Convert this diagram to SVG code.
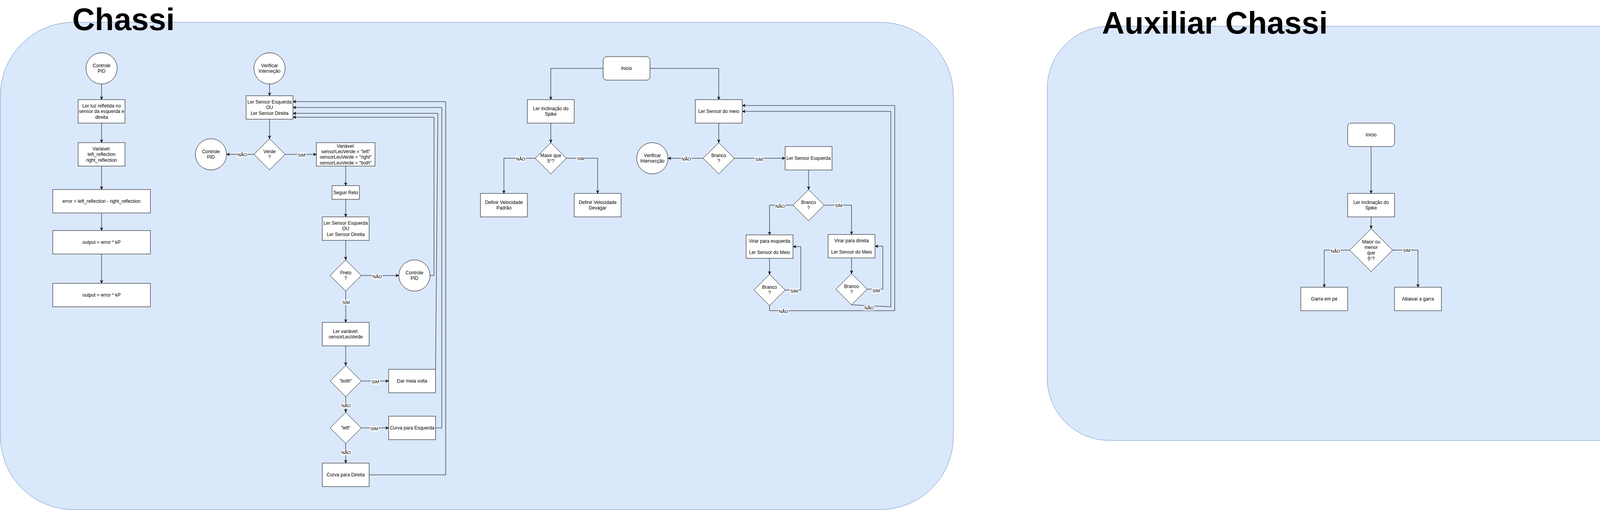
<svg xmlns="http://www.w3.org/2000/svg" width="4372" height="1305" viewBox="0 0 4372 1305">
<style>
.bg{fill:#dae8fc;stroke:#6c8ebf;stroke-width:1}
.n{fill:#fff;stroke:#000;stroke-width:1}
.t{font-family:"Liberation Sans",Arial,Helvetica,sans-serif;font-size:12px;fill:#000;text-anchor:middle}
.title{font-family:"Liberation Sans",Arial,Helvetica,sans-serif;font-size:80px;font-weight:bold;fill:#000}
.e{fill:none;stroke:#000;stroke-width:1}
.a{marker-end:url(#arr)}
.lb{fill:#fff;stroke:none}
.lt{font-family:"Liberation Sans",Arial,Helvetica,sans-serif;font-size:11px;fill:#000;text-anchor:middle}
</style>
<defs>
<marker id="arr" markerUnits="userSpaceOnUse" markerWidth="10" markerHeight="10" refX="8" refY="3.75" orient="auto">
<path d="M0,0 L8,3.75 L0,7.5 L2.5,3.75 Z" fill="#000" stroke="#000" stroke-width="0.5"/>
</marker>
</defs>
<rect width="4372" height="1305" fill="#fff"/>

<g id="container-chassi">
<rect class="bg" x="1" y="57" width="2439.5" height="1247" rx="187" ry="187"/>
<text class="title" x="185" y="77">Chassi</text>
</g>
<g id="container-auxiliar">
<rect class="bg" x="2681" y="67" width="1689" height="1060" rx="159" ry="159"/>
<text class="title" x="2821" y="86">Auxiliar Chassi</text>
</g>

<g id="connectors">
<path class="e a" d="M260,215 V255"/>
<path class="e a" d="M260,315 V365"/>
<path class="e a" d="M260,425 V485"/>
<path class="e a" d="M260,545 V590"/>
<path class="e a" d="M260,650 V725"/>

<path class="e a" d="M690,215 V245"/>
<path class="e a" d="M690,305 V355"/>
<path class="e a" d="M650,395 H580"/>
<path class="e a" d="M730,395 H810"/>
<path class="e a" d="M885,425 V475"/>
<path class="e a" d="M885,510 V555"/>
<path class="e a" d="M885,615 V665"/>
<path class="e a" d="M925,705 H1021"/>
<path class="e a" d="M885,745 V825"/>
<path class="e a" d="M1101,705 H1111 V300 H750"/>
<path class="e a" d="M885,885 V935"/>
<path class="e a" d="M925,975 H995"/>
<path class="e a" d="M885,1015 V1055"/>
<path class="e a" d="M1115,945 L1121,290 H750"/>
<path class="e a" d="M925,1095 H995"/>
<path class="e a" d="M885,1135 V1185"/>
<path class="e a" d="M1115,1095 H1131 V275 H750"/>
<path class="e a" d="M945,1215 H1141 V260 H750"/>

<path class="e a" d="M1544,175 H1410 V255"/>
<path class="e a" d="M1664,175 H1840 V255"/>
<path class="e a" d="M1410,315 V365"/>
<path class="e a" d="M1370,405 H1290 V495"/>
<path class="e a" d="M1450,405 H1530 V495"/>
<path class="e a" d="M1840,315 V365"/>
<path class="e a" d="M1800,405 H1710"/>
<path class="e a" d="M1880,405 H2010"/>
<path class="e a" d="M2070,435 V485"/>
<path class="e a" d="M2030,525 H1970 V601"/>
<path class="e a" d="M2110,525 H2180 V600"/>
<path class="e a" d="M1970,661 V702"/>
<path class="e a" d="M2180,660 V700"/>
<path class="e a" d="M2010,742 H2050 V631 H2030"/>
<path class="e a" d="M2220,740 H2260 V630 H2240"/>
<path class="e a" d="M2180,780 L2280.5,785 V285 H1900"/>
<path class="e a" d="M1970,782 V795 H2290.5 V270 H1900"/>

<path class="e a" d="M3510,375 V495"/>
<path class="e a" d="M3510,555 V585"/>
<path class="e a" d="M3455,640 H3390 V735"/>
<path class="e a" d="M3565,640 H3630 V735"/>

<g id="edge-labels">
<rect class="lb" x="607" y="389.5" width="26" height="13"/><text class="lt" x="620" y="399.8">NÃO</text>
<rect class="lb" x="761" y="390.5" width="22" height="13"/><text class="lt" x="772" y="400.8">SIM</text>
<rect class="lb" x="953" y="701.5" width="26" height="13"/><text class="lt" x="966" y="711.8">NÃO</text>
<rect class="lb" x="875" y="767.5" width="22" height="13"/><text class="lt" x="886" y="777.8">SIM</text>
<rect class="lb" x="950" y="970.5" width="22" height="13"/><text class="lt" x="961" y="980.8">SIM</text>
<rect class="lb" x="873" y="1031.5" width="26" height="13"/><text class="lt" x="886" y="1041.8">NÃO</text>
<rect class="lb" x="947" y="1090.5" width="22" height="13"/><text class="lt" x="958" y="1100.8">SIM</text>
<rect class="lb" x="873" y="1151.5" width="26" height="13"/><text class="lt" x="886" y="1161.8">NÃO</text>
<rect class="lb" x="1320" y="400.5" width="26" height="13"/><text class="lt" x="1333" y="410.8">NÃO</text>
<rect class="lb" x="1476" y="399.5" width="22" height="13"/><text class="lt" x="1487" y="409.8">SIM</text>
<rect class="lb" x="1744" y="400.5" width="26" height="13"/><text class="lt" x="1757" y="410.8">NÃO</text>
<rect class="lb" x="1932" y="401.5" width="22" height="13"/><text class="lt" x="1943" y="411.8">SIM</text>
<rect class="lb" x="1984" y="521.5" width="26" height="13"/><text class="lt" x="1997" y="531.8">NÃO</text>
<rect class="lb" x="2136" y="519.5" width="22" height="13"/><text class="lt" x="2147" y="529.8">SIM</text>
<rect class="lb" x="2022" y="738.5" width="22" height="13"/><text class="lt" x="2033" y="748.8">SIM</text>
<rect class="lb" x="2232" y="737.5" width="22" height="13"/><text class="lt" x="2243" y="747.8">SIM</text>
<rect class="lb" x="2212" y="781.5" width="26" height="13"/><text class="lt" x="2225" y="791.8">NÃO</text>
<rect class="lb" x="1993" y="790.5" width="26" height="13"/><text class="lt" x="2006" y="800.8">NÃO</text>
<rect class="lb" x="3406" y="636.5" width="26" height="13"/><text class="lt" x="3419" y="646.8">NÃO</text>
<rect class="lb" x="3590" y="634.5" width="22" height="13"/><text class="lt" x="3601" y="644.8">SIM</text>
</g>
</g>

<g id="pid-controle"><circle class="n" cx="260" cy="175" r="40"/><text class="t" x="260" y="172">Controle</text><text class="t" x="260" y="186.4">PID</text></g>
<g id="pid-ler-luz"><rect class="n" x="200" y="255" width="120" height="60"/><text class="t" x="260" y="274.8">Ler luz refletida no</text><text class="t" x="260" y="289.2">sensor da esquerda e</text><text class="t" x="260" y="303.6">direita</text></g>
<g id="pid-variavel"><rect class="n" x="200" y="365" width="120" height="60"/><text class="t" x="260" y="384.8">Variável:</text><text class="t" x="260" y="399.2">left_reflection</text><text class="t" x="260" y="413.6">right_reflection</text></g>
<g id="pid-error"><rect class="n" x="135" y="485" width="250" height="60"/><text class="t" x="260" y="519.2">error = left_reflection - right_reflection</text></g>
<g id="pid-output1"><rect class="n" x="135" y="590" width="250" height="60"/><text class="t" x="260" y="624.2">output = error * kP</text></g>
<g id="pid-output2"><rect class="n" x="135" y="725" width="250" height="60"/><text class="t" x="260" y="759.2">output = error * kP</text></g>

<g id="int-verificar"><circle class="n" cx="690" cy="175" r="40"/><text class="t" x="690" y="172">Verificar</text><text class="t" x="690" y="186.4">Interseção</text></g>
<g id="int-ler1"><rect class="n" x="630" y="245" width="120" height="60"/><text class="t" x="690" y="264.8">Ler Sensor Esquerda</text><text class="t" x="690" y="279.2">OU</text><text class="t" x="690" y="293.6">Ler Sensor Direita</text></g>
<g id="int-verde"><path class="n" d="M690,355 L730,395 L690,435 L650,395 Z"/><text class="t" x="690" y="392">Verde</text><text class="t" x="690" y="406.4">?</text></g>
<g id="int-pid1"><circle class="n" cx="540" cy="395" r="40"/><text class="t" x="540" y="392">Controle</text><text class="t" x="540" y="406.4">PID</text></g>
<g id="int-variavel"><rect class="n" x="810" y="365" width="150" height="60"/><text class="t" x="885" y="377.6">Variável:</text><text class="t" x="885" y="392">sensorLeuVerde = "left"</text><text class="t" x="885" y="406.4">sensorLeuVerde = "right"</text><text class="t" x="885" y="420.8">sensorLeuVerde = "both"</text></g>
<g id="int-seguir"><rect class="n" x="850" y="475" width="70" height="35"/><text class="t" x="885" y="496.7">Seguir Reto</text></g>
<g id="int-ler2"><rect class="n" x="825" y="555" width="120" height="60"/><text class="t" x="885" y="574.8">Ler Sensor Esquerda</text><text class="t" x="885" y="589.2">OU</text><text class="t" x="885" y="603.6">Ler Sensor Direita</text></g>
<g id="int-preto"><path class="n" d="M885,665 L925,705 L885,745 L845,705 Z"/><text class="t" x="885" y="702">Preto</text><text class="t" x="885" y="716.4">?</text></g>
<g id="int-pid2"><circle class="n" cx="1061" cy="705" r="40"/><text class="t" x="1061" y="702">Controle</text><text class="t" x="1061" y="716.4">PID</text></g>
<g id="int-lervar"><rect class="n" x="825" y="825" width="120" height="60"/><text class="t" x="885" y="852">Ler variável:</text><text class="t" x="885" y="866.4">sensorLeuVerde</text></g>
<g id="int-both"><path class="n" d="M885,935 L925,975 L885,1015 L845,975 Z"/><text class="t" x="885" y="979.2">"both"</text></g>
<g id="int-meia"><rect class="n" x="995" y="945" width="120" height="60"/><text class="t" x="1055" y="979.2">Dar meia volta</text></g>
<g id="int-left"><path class="n" d="M885,1055 L925,1095 L885,1135 L845,1095 Z"/><text class="t" x="885" y="1099.2">"left"</text></g>
<g id="int-curvaE"><rect class="n" x="995" y="1065" width="120" height="60"/><text class="t" x="1055" y="1099.2">Curva para Esquerda</text></g>
<g id="int-curvaD"><rect class="n" x="825" y="1185" width="120" height="60"/><text class="t" x="885" y="1219.2">Curva para Direita</text></g>

<g id="main-inicio"><rect class="n" x="1544" y="145" width="120" height="60" rx="9" ry="9"/><text class="t" x="1604" y="179.2">Inicio</text></g>
<g id="main-inclinacao"><rect class="n" x="1350" y="255" width="120" height="60"/><text class="t" x="1410" y="282">Ler inclinação do</text><text class="t" x="1410" y="296.4">Spike</text></g>
<g id="main-maior"><path class="n" d="M1410,365 L1450,405 L1410,445 L1370,405 Z"/><text class="t" x="1410" y="402">Maior que</text><text class="t" x="1410" y="416.4">5°?</text></g>
<g id="main-padrao"><rect class="n" x="1230" y="495" width="120" height="60"/><text class="t" x="1290" y="522">Definir Velocidade</text><text class="t" x="1290" y="536.4">Padrão</text></g>
<g id="main-devagar"><rect class="n" x="1470" y="495" width="120" height="60"/><text class="t" x="1530" y="522">Definir Velocidade</text><text class="t" x="1530" y="536.4">Devagar</text></g>
<g id="main-meio"><rect class="n" x="1780" y="255" width="120" height="60"/><text class="t" x="1840" y="289.2">Ler Sensor do meio</text></g>
<g id="main-branco1"><path class="n" d="M1840,365 L1880,405 L1840,445 L1800,405 Z"/><text class="t" x="1840" y="402">Branco</text><text class="t" x="1840" y="416.4">?</text></g>
<g id="main-verificar"><circle class="n" cx="1670" cy="405" r="40"/><text class="t" x="1670" y="402">Verificar</text><text class="t" x="1670" y="416.4">Intersecção</text></g>
<g id="main-esquerda"><rect class="n" x="2010" y="375" width="120" height="60"/><text class="t" x="2070" y="409.2">Ler Sensor Esquerda</text></g>
<g id="main-branco2"><path class="n" d="M2070,485 L2110,525 L2070,565 L2030,525 Z"/><text class="t" x="2070" y="522">Branco</text><text class="t" x="2070" y="536.4">?</text></g>
<g id="main-virarE"><rect class="n" x="1910" y="601" width="120" height="60"/><text class="t" x="1970" y="620.8">Virar para esquerda</text><text class="t" x="1970" y="649.6">Ler Sensor do Meio</text></g>
<g id="main-virarD"><rect class="n" x="2120" y="600" width="120" height="60"/><text class="t" x="2180" y="619.8">Virar para direita</text><text class="t" x="2180" y="648.6">Ler Sensor do Meio</text></g>
<g id="main-branco3"><path class="n" d="M1970,702 L2010,742 L1970,782 L1930,742 Z"/><text class="t" x="1970" y="739">Branco</text><text class="t" x="1970" y="753.4">?</text></g>
<g id="main-branco4"><path class="n" d="M2180,700 L2220,740 L2180,780 L2140,740 Z"/><text class="t" x="2180" y="737">Branco</text><text class="t" x="2180" y="751.4">?</text></g>

<g id="aux-inicio"><rect class="n" x="3450" y="315" width="120" height="60" rx="9" ry="9"/><text class="t" x="3510" y="349.2">Inicio</text></g>
<g id="aux-inclinacao"><rect class="n" x="3450" y="495" width="120" height="60"/><text class="t" x="3510" y="522">Ler inclinação do</text><text class="t" x="3510" y="536.4">Spike</text></g>
<g id="aux-maior"><path class="n" d="M3510,585 L3565,640 L3510,695 L3455,640 Z"/><text class="t" x="3510" y="622.6">Maior ou</text><text class="t" x="3510" y="637">menor</text><text class="t" x="3510" y="651.4">que</text><text class="t" x="3510" y="665.8">5°?</text></g>
<g id="aux-garra"><rect class="n" x="3330" y="735" width="120" height="60"/><text class="t" x="3390" y="769.2">Garra em pé</text></g>
<g id="aux-abaixar"><rect class="n" x="3570" y="735" width="120" height="60"/><text class="t" x="3630" y="769.2">Abaixar a garra</text></g>
</svg>
